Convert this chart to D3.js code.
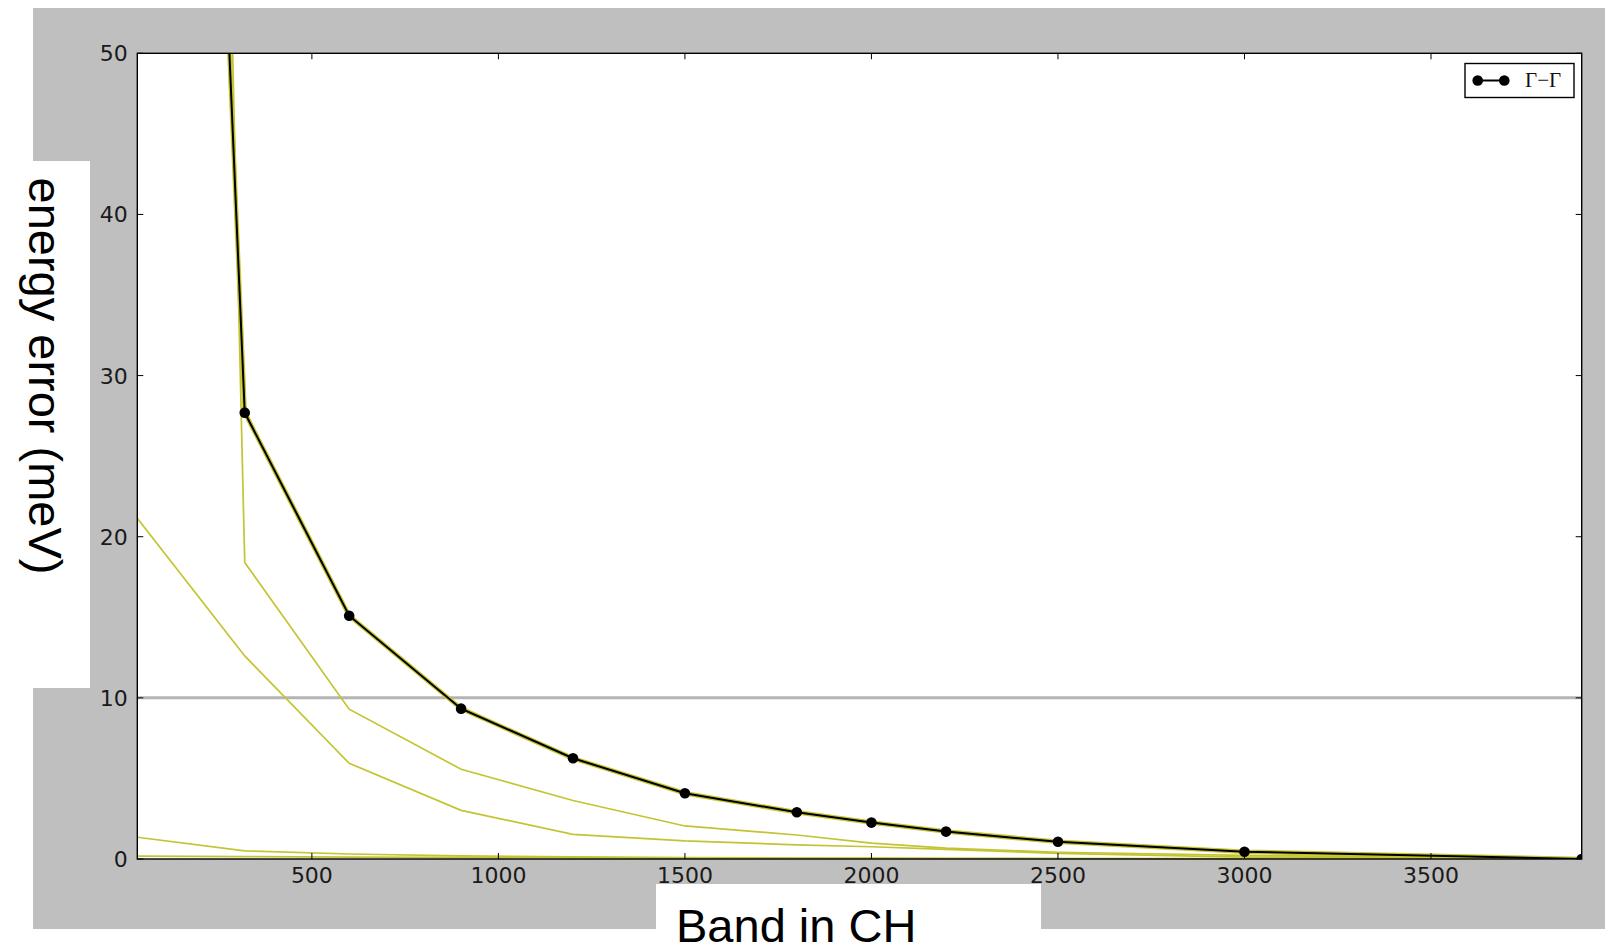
<!DOCTYPE html>
<html>
<head>
<meta charset="utf-8">
<script src="https://cdn.jsdelivr.net/npm/d3@7"></script>
<style>
  html, body { margin: 0; padding: 0; background: #fff; }
  svg { display: block; }
</style>
</head>
<body>
<script>
// band counts (x) shared by every curve
var bands = [32, 320, 600, 900, 1200, 1500, 1800, 2000, 2200, 2500, 3000, 3904];
// Gamma-Gamma error (black with dots, also drawn in yellow underneath)
var gammaGamma = [184, 27.7, 15.1, 9.33, 6.25, 4.08, 2.9, 2.26, 1.7, 1.07, 0.45, 0];
// other k-point errors (yellow)
var kpointA = [299, 18.4, 9.3, 5.57, 3.63, 2.05, 1.49, 0.98, 0.68, 0.42, 0.22, 0];
var kpointB = [21.15, 12.6, 5.94, 3.02, 1.53, 1.12, 0.88, 0.76, 0.6, 0.35, 0.12, 0];
var kpointC = [1.35, 0.5, 0.31, 0.2, 0.13, 0.09, 0.06, 0.05, 0.04, 0.03, 0.02, 0];
var kpointD = [0.18, 0.15, 0.12, 0.1, 0.08, 0.06, 0.05, 0.04, 0.03, 0.02, 0.01, 0];
var xTicks = [500, 1000, 1500, 2000, 2500, 3000, 3500];
var yTicks = [0, 10, 20, 30, 40, 50];
var threshold = 10;

var w = 1605, h = 949;
var pLeft = 137.3, pRight = 1581.7, pTop = 53.3, pBottom = 859;

var svg = d3.select("body").append("svg")
    .attr("width", w)
    .attr("height", h);

// grey figure background + white patches behind the big labels
svg.append("rect").attr("x", 33).attr("y", 8).attr("width", w - 33).attr("height", 921).attr("fill", "#bfbfbf");
svg.append("rect").attr("x", 0).attr("y", 161).attr("width", 90).attr("height", 527).attr("fill", "#fff");
svg.append("rect").attr("x", 656).attr("y", 884).attr("width", 385).attr("height", 65).attr("fill", "#fff");

var xScale = d3.scaleLinear().domain([32, 3904]).range([pLeft, pRight]);
var yScale = d3.scaleLinear().domain([0, 50]).range([pBottom, pTop]);

svg.append("rect")
    .attr("x", pLeft).attr("y", pTop)
    .attr("width", pRight - pLeft).attr("height", pBottom - pTop)
    .attr("fill", "#fff");

svg.append("clipPath").attr("id", "plotclip")
  .append("rect")
    .attr("x", pLeft).attr("y", pTop)
    .attr("width", pRight - pLeft).attr("height", pBottom - pTop);

var plot = svg.append("g").attr("clip-path", "url(#plotclip)");

// 10 meV reference line
plot.append("line")
    .attr("x1", pLeft).attr("x2", pRight)
    .attr("y1", yScale(threshold)).attr("y2", yScale(threshold))
    .attr("stroke", "#b4b4b4")
    .attr("stroke-width", 3);

var line = d3.line()
    .x(function(d) { return xScale(d[0]); })
    .y(function(d) { return yScale(d[1]); });

function pairs(vals) {
    return bands.map(function(b, i) { return [b, vals[i]]; });
}

var yellow = [kpointD, kpointC, kpointB, kpointA];
plot.selectAll("path.k")
    .data(yellow)
    .enter()
    .append("path")
    .attr("class", "k")
    .attr("d", function(d) { return line(pairs(d)); })
    .attr("fill", "none")
    .attr("stroke", "#c4c432")
    .attr("stroke-width", 1.7);

// yellow copy of Gamma-Gamma underneath the black one
plot.append("path")
    .attr("d", line(pairs(gammaGamma)))
    .attr("fill", "none")
    .attr("stroke", "#c4c432")
    .attr("stroke-width", 4.5);

plot.append("path")
    .attr("d", line(pairs(gammaGamma)))
    .attr("fill", "none")
    .attr("stroke", "#000")
    .attr("stroke-width", 2);

plot.selectAll("circle")
    .data(pairs(gammaGamma))
    .enter()
    .append("circle")
    .attr("cx", function(d) { return xScale(d[0]); })
    .attr("cy", function(d) { return yScale(d[1]); })
    .attr("r", 5.3)
    .attr("fill", "#000");

// axes: ticks inward on all four sides
var tickLen = 6;
var axG = svg.append("g").attr("font-family", "DejaVu Sans, sans-serif").attr("font-size", "22px").attr("fill", "#1a1a1a");

axG.selectAll("text.xt")
    .data(xTicks)
    .enter()
    .append("text")
    .attr("class", "xt")
    .attr("x", function(d) { return xScale(d); })
    .attr("y", pBottom + 24)
    .attr("text-anchor", "middle")
    .text(function(d) { return d; });

axG.selectAll("text.yt")
    .data(yTicks)
    .enter()
    .append("text")
    .attr("class", "yt")
    .attr("x", pLeft - 9.5)
    .attr("y", function(d) { return yScale(d); })
    .attr("dy", "0.36em")
    .attr("text-anchor", "end")
    .text(function(d) { return d; });

var tickG = svg.append("g").attr("stroke", "#000").attr("stroke-width", 1);
xTicks.forEach(function(t) {
    tickG.append("line").attr("x1", xScale(t)).attr("x2", xScale(t)).attr("y1", pBottom).attr("y2", pBottom - tickLen);
    tickG.append("line").attr("x1", xScale(t)).attr("x2", xScale(t)).attr("y1", pTop).attr("y2", pTop + tickLen);
});
yTicks.forEach(function(t) {
    tickG.append("line").attr("x1", pLeft).attr("x2", pLeft + tickLen).attr("y1", yScale(t)).attr("y2", yScale(t));
    tickG.append("line").attr("x1", pRight).attr("x2", pRight - tickLen).attr("y1", yScale(t)).attr("y2", yScale(t));
});

svg.append("rect")
    .attr("x", pLeft).attr("y", pTop)
    .attr("width", pRight - pLeft).attr("height", pBottom - pTop)
    .attr("fill", "none")
    .attr("stroke", "#000")
    .attr("stroke-width", 1.4);

// legend
var lg = svg.append("g");
lg.append("rect")
    .attr("x", 1465).attr("y", 63.5).attr("width", 109).attr("height", 34)
    .attr("fill", "#fff").attr("stroke", "#000").attr("stroke-width", 1.4);
lg.append("line").attr("x1", 1477.7).attr("x2", 1504.3).attr("y1", 80.5).attr("y2", 80.5)
    .attr("stroke", "#000").attr("stroke-width", 2);
lg.selectAll("circle").data([1477.7, 1504.3]).enter().append("circle")
    .attr("cx", function(d) { return d; }).attr("cy", 80.5).attr("r", 5.3).attr("fill", "#000");
lg.append("text")
    .attr("x", 1525).attr("y", 87)
    .attr("font-family", "Liberation Serif, DejaVu Serif, serif")
    .attr("font-size", "21px")
    .attr("fill", "#111")
    .text("\u0393\u2212\u0393");

// axis titles
svg.append("text")
    .attr("x", 676).attr("y", 942)
    .attr("font-family", "Liberation Sans, Arial, sans-serif")
    .attr("font-size", "47px")
    .attr("fill", "#000")
    .text("Band in CH");

svg.append("text")
    .attr("transform", "translate(29,376) rotate(90)")
    .attr("text-anchor", "middle")
    .attr("font-family", "Liberation Sans, Arial, sans-serif")
    .attr("font-size", "47px")
    .attr("fill", "#000")
    .text("energy error (meV)");
</script>
</body>
</html>
